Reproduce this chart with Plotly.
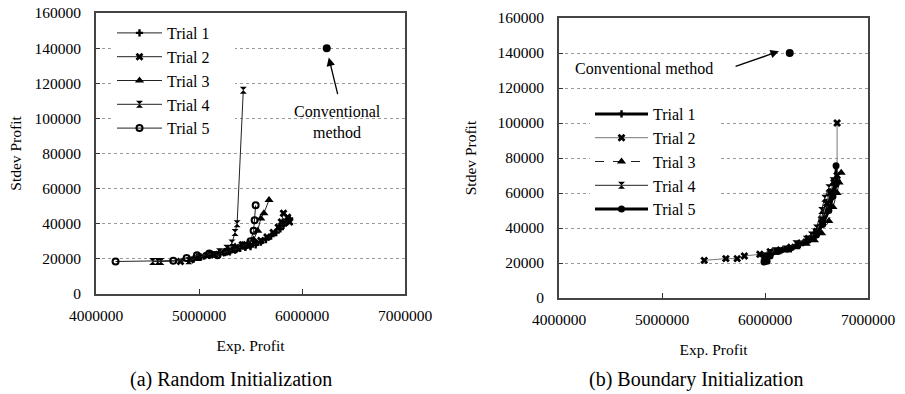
import plotly.graph_objects as go

# ---------------- data ----------------
trial_names = ["Trial 1", "Trial 2", "Trial 3", "Trial 4", "Trial 5"]

# (a) Random Initialization
a_t1_x = [4950000, 5000000, 5050000, 5100000, 5150000, 5200000, 5250000, 5300000, 5350000, 5400000, 5450000,
          5500000, 5550000, 5600000, 5650000, 5700000, 5750000, 5790000, 5820000, 5850000, 5880000]
a_t1_y = [20000, 21000, 21500, 22000, 22500, 23000, 23500, 24000, 25000, 26000, 26500,
          27000, 28000, 29500, 31000, 33000, 35000, 37000, 39000, 41000, 43000]
a_t2_x = [4820000, 4920000, 5000000, 5080000, 5150000, 5220000, 5300000, 5360000, 5420000, 5480000,
          5540000, 5600000, 5660000, 5720000, 5770000, 5800000, 5820000, 5860000, 5880000]
a_t2_y = [18500, 19500, 21000, 22000, 22500, 23500, 25000, 26500, 28000, 27500,
          29000, 30500, 32500, 35000, 38000, 41000, 46000, 43700, 41000]
a_t3_x = [4980000, 5050000, 5120000, 5200000, 5280000, 5350000, 5420000, 5480000, 5530000, 5570000,
          5600000, 5630000, 5680000]
a_t3_y = [20000, 21500, 22500, 23500, 25500, 27000, 28000, 29000, 31000, 36000, 43000, 46000, 53500]
a_t4_x = [4550000, 4600000, 4630000, 4900000, 5000000, 5100000, 5200000, 5270000, 5320000, 5350000,
          5370000, 5430000]
a_t4_y = [18500, 18500, 18500, 19000, 21000, 22500, 24000, 26000, 29000, 35000, 40000, 116000]
a_t5_x = [4190000, 4750000, 4880000, 4980000, 5100000, 5180000, 5260000, 5350000, 5440000, 5500000,
          5530000, 5540000, 5550000]
a_t5_y = [18500, 19000, 20500, 22000, 23000, 22000, 24000, 25500, 27500, 30000, 36000, 42000, 50500]

# (b) Boundary Initialization
b_t1_x = [5980000, 6050000, 6150000, 6250000, 6300000, 6380000, 6450000, 6500000, 6550000, 6580000,
          6620000, 6660000, 6700000]
b_t1_y = [24000, 26000, 27000, 28000, 30000, 32000, 35000, 38000, 44000, 50000, 56000, 62000, 67000]
b_t2_x = [5410000, 5620000, 5730000, 5800000, 5950000, 6050000, 6150000, 6250000, 6350000, 6420000,
          6500000, 6550000, 6600000, 6630000, 6670000, 6700000, 6700000]
b_t2_y = [21500, 22500, 22500, 24000, 25000, 26500, 27500, 29000, 31500, 34000,
          38000, 45000, 54000, 60000, 66000, 70000, 100000]
b_t3_x = [6000000, 6100000, 6200000, 6300000, 6400000, 6480000, 6550000, 6620000, 6660000, 6700000,
          6720000, 6740000]
b_t3_y = [23000, 26000, 27500, 29000, 31000, 33000, 37000, 44000, 52000, 60000, 66000, 71500]
b_t4_x = [6000000, 6100000, 6200000, 6300000, 6400000, 6450000, 6500000, 6550000, 6580000, 6620000, 6660000]
b_t4_y = [24000, 27000, 28000, 31000, 33500, 36000, 40000, 50000, 57000, 63000, 67000]
b_t5_x = [5990000, 6020000, 6050000, 6120000, 6220000, 6320000, 6420000, 6500000, 6560000, 6620000,
          6660000, 6690000, 6690000]
b_t5_y = [20500, 21000, 24000, 26500, 28000, 30000, 33000, 36000, 42000, 50000, 58000, 65000, 75500]

conv_x = [6240000]
conv_y = [140000]

x_ticks = [4000000, 5000000, 6000000, 7000000]
y_ticks = [0, 20000, 40000, 60000, 80000, 100000, 120000, 140000, 160000]

# ---------------- figure ----------------
W, H = 905, 394
FONT = "Liberation Serif"
fig = go.Figure()

pad = "\u00a0" * 5

a_series = [(a_t1_x, a_t1_y), (a_t2_x, a_t2_y), (a_t3_x, a_t3_y), (a_t4_x, a_t4_y), (a_t5_x, a_t5_y)]
a_markers = [
    dict(symbol="cross", size=6, color="black"),
    dict(symbol="x", size=7, color="black"),
    dict(symbol="triangle-up", size=8, color="black"),
    dict(symbol="hourglass", size=7, color="black"),
    dict(symbol="circle-open", size=6, color="black", line=dict(width=2, color="black")),
]
for name, (xs, ys), mk in zip(trial_names, a_series, a_markers):
    fig.add_trace(go.Scatter(x=xs, y=ys, name=name + pad, mode="lines+markers",
                             line=dict(color="#222", width=1), marker=mk,
                             xaxis="x", yaxis="y", legend="legend"))

b_series = [(b_t1_x, b_t1_y), (b_t2_x, b_t2_y), (b_t3_x, b_t3_y), (b_t4_x, b_t4_y), (b_t5_x, b_t5_y)]
b_markers = [
    dict(symbol="cross", size=6, color="black"),
    dict(symbol="x", size=7, color="black"),
    dict(symbol="triangle-up", size=8, color="black"),
    dict(symbol="hourglass", size=7, color="black"),
    dict(symbol="circle", size=7, color="black"),
]
b_lines = [
    dict(color="black", width=3),
    dict(color="#777", width=1),
    dict(color="#222", width=1, dash="dash"),
    dict(color="#222", width=1),
    dict(color="black", width=3),
]
for name, (xs, ys), mk, ln in zip(trial_names, b_series, b_markers, b_lines):
    fig.add_trace(go.Scatter(x=xs, y=ys, name=name + pad, mode="lines+markers",
                             line=ln, marker=mk,
                             xaxis="x2", yaxis="y2", legend="legend2"))

for xa, ya in (("x", "y"), ("x2", "y2")):
    fig.add_trace(go.Scatter(x=conv_x, y=conv_y, mode="markers", showlegend=False,
                             marker=dict(symbol="circle", size=8, color="black"),
                             xaxis=xa, yaxis=ya))

tick_font = dict(family=FONT, size=15.5, color="black")
title_font = dict(family=FONT, size=15.5, color="black")

def xaxis(domain, anchor):
    return dict(domain=domain, anchor=anchor, range=[4000000, 7000000], tickvals=x_ticks,
                tickformat="d", showgrid=False, zeroline=False, automargin=False,
                showline=True, mirror=True, linecolor="#444", linewidth=2,
                ticks="inside", ticklen=5, tickcolor="#333", tickfont=tick_font,
                ticklabelstandoff=6,
                title=dict(text="Exp. Profit", font=title_font, standoff=18))

def yaxis(domain, anchor, standoff):
    return dict(domain=domain, anchor=anchor, range=[0, 160000], tickvals=y_ticks,
                tickformat="d", showgrid=True, gridcolor="#9a9a9a", griddash="dot", gridwidth=1,
                zeroline=False, showline=True, mirror=True, linecolor="#444", linewidth=2,
                automargin=False,
                ticks="inside", ticklen=4, tickcolor="#333", tickfont=tick_font,
                ticklabelstandoff=10,
                title=dict(text="Stdev Profit", font=title_font, standoff=standoff))

fig.update_layout(
    template="none",
    width=W, height=H,
    margin=dict(l=0, r=0, t=0, b=0, autoexpand=False),
    paper_bgcolor="white", plot_bgcolor="white",
    font=dict(family=FONT, color="black"),
    xaxis=xaxis([96 / W, 405 / W], "y"),
    yaxis=yaxis([(H - 294) / H, (H - 13) / H], "x", 9),
    xaxis2=xaxis([559 / W, 868 / W], "y2"),
    yaxis2=yaxis([(H - 298) / H, (H - 18) / H], "x2", 17),
    legend=dict(x=112 / W, y=(H - 16) / H, xanchor="left", yanchor="top",
                bgcolor="white", borderwidth=0, itemwidth=45,
                font=dict(family=FONT, size=16, color="black")),
    legend2=dict(x=590 / W, y=(H - 97) / H, xanchor="left", yanchor="top",
                 bgcolor="white", borderwidth=0, itemwidth=53,
                 font=dict(family=FONT, size=16, color="black")),
    annotations=[
        dict(text="Conventional<br>method", x=6340000, y=98000, xref="x", yref="y",
             showarrow=False, font=dict(family=FONT, size=16, color="black")),
        dict(text="", x=6260000, y=134600, ax=6350000, ay=113000,
             xref="x", yref="y", axref="x", ayref="y",
             showarrow=True, arrowhead=2, arrowsize=1.3, arrowwidth=1.3, arrowcolor="black"),
        dict(text="Conventional method", x=4830000, y=130900, xref="x2", yref="y2",
             showarrow=False, font=dict(family=FONT, size=16, color="black")),
        dict(text="", x=6135000, y=141000, ax=5700000, ay=132000,
             xref="x2", yref="y2", axref="x2", ayref="y2",
             showarrow=True, arrowhead=2, arrowsize=1.3, arrowwidth=1.3, arrowcolor="black"),
        dict(text="(a) Random Initialization", x=231 / W, y=(H - 379) / H,
             xref="paper", yref="paper", showarrow=False, xanchor="center", yanchor="middle",
             font=dict(family=FONT, size=20, color="black")),
        dict(text="(b) Boundary Initialization", x=696 / W, y=(H - 379) / H,
             xref="paper", yref="paper", showarrow=False, xanchor="center", yanchor="middle",
             font=dict(family=FONT, size=20, color="black")),
    ],
)

fig.write_html("out.html", config={"displayModeBar": False},
               post_script="document.body.style.margin='0';document.body.style.overflow='hidden';")
